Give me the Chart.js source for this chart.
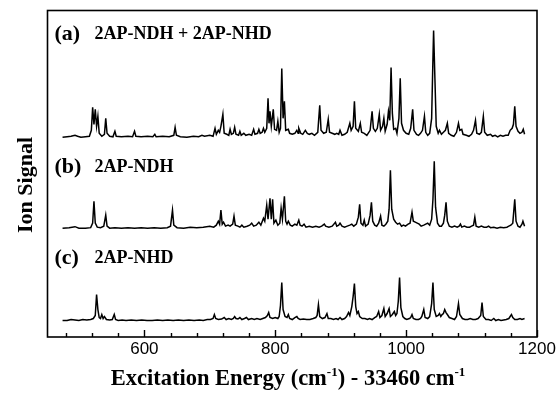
<!DOCTYPE html>
<html>
<head>
<meta charset="utf-8">
<script src="https://cdn.jsdelivr.net/npm/chart.js@4.4.1/dist/chart.umd.min.js"></script>
<style>
  html, body { margin: 0; padding: 0; background: #fff; }
  #wrap { width: 559px; height: 393px; }
</style>
</head>
<body>
<div id="wrap"><canvas id="chart" width="559" height="393"></canvas></div>
<script>
(function () {
  'use strict';

  // tick values on the energy axis (cm-1 above origin)
  var MAJOR_TICKS = [600, 800, 1000, 1200];
  var MINOR_TICKS = [480, 520, 560, 640, 680, 720, 760, 840, 880, 920, 960, 1040, 1080, 1120, 1160];

  var PANEL_LABELS = ['(a)', '(b)', '(c)'];
  var PANEL_NAMES = ['2AP-NDH + 2AP-NHD', '2AP-NDH', '2AP-NHD'];

  // [energy, signal] (signal above that trace's own baseline)
  var traceA = [
    [475,1],[482,1.5],[488,2],[494,3],[498,2],[503,1],[510,1.5],[516,2],
    [519,8],[521,31],[523,14],[525,29],[527,12],[529,22],[531,5],[535,2],
    [539,4],[541,20],[543,5],[547,2],[552,1.5],[555,7],[557,2],[565,1.5],[575,2],[582,1.5],[585,7],[587,2],
    [595,1.5],[605,2],[613,1.5],[616,4],[618,1.5],[628,2],[638,1.5],[645,3],[647,11],[649,3],[655,1.5],
    [665,1],[675,2],[683,1.5],[688,3],[692,2],[700,3],[705,2],[708,10],[710,4],[713,8],[715,6],[717,12],
    [720,24],[722,5],[726,4],[729,3],[731,9],[733,4],[736,5],[738,11],[740,4],[744,3],[746,7],[748,3],
    [752,5],[755,3],[760,4],[764,3],[767,9],[769,4],[773,5],[775,9],[777,5],[780,6],[782,10],[784,6],
    [787,10],[789,40],[790.5,15],[792,27],[794,12],[797,29],[799,9],[802,8],[804,17],[806,6],[808,10],
    [810,70],[812,20],[814,37],[816,8],[820,9],[822,5],[826,4],[830,5],[833,8],[835,5],[836,10],[839,5],
    [842,4],[846,8],[849,5],[852,4],[856,5],[860,3],[865,6],[868,33],[870,8],[874,5],[878,6],[881,19],
    [883,6],[887,5],[891,4],[894,5],[897,4],[899,8],[902,3],[906,4],[910,6],[914,15],[916,8],[919,12],
    [921,37],[923,10],[927,7],[930,15],[932,6],[936,5],[940,3],[945,8],[948,27],[950,10],[953,7],[956,10],
    [959,24],[961,8],[964,12],[966,20],[968,7],[971,14],[973,27],[975,18],[977,71],[979,25],[981,9],
    [984,10],[986,5],[989,20],[991,60],[993,15],[996,8],[1000,5],[1004,4],[1007,10],[1010,29],[1012,8],
    [1016,4],[1019,3],[1022,5],[1025,8],[1028,22],[1030,6],[1033,3],[1036,5],[1039,20],[1041,80],
    [1042,108],[1044,60],[1046,12],[1049,5],[1051,8],[1054,4],[1057,6],[1060,8],[1063,15],[1065,5],
    [1069,3],[1073,2],[1077,6],[1080,15],[1082,8],[1085,9],[1087,4],[1092,3],[1096,2],[1100,4],[1103,8],
    [1106,18],[1108,5],[1112,4],[1115,6],[1118,22],[1120,6],[1124,3],[1129,4],[1132,2],[1136,3],
    [1140,1.5],[1144,3],[1148,2],[1152,3],[1156,3],[1159,8],[1162,10],[1164,14],[1166,32],[1168,12],
    [1171,7],[1174,5],[1177,6],[1179,9],[1181,4]
  ];

  var traceB = [
    [475,1],[485,1.5],[494,2.5],[500,1],[510,1],[518,1.5],[521,6],[523,28],[525,6],[528,2],[533,1.5],
    [538,3],[541,14],[543,3],[547,1],[555,1.5],[565,1],[575,1.5],[585,1],[595,1.5],[605,1],[615,1.5],
    [625,1],[635,1.5],[640,3],[643,19],[645,4],[650,1.5],[660,1],[670,2],[680,1.5],[690,2],[700,3],
    [706,2],[710,4],[713,8],[715,5],[717,19],[719,5],[721,7],[724,3],[728,4],[731,3],[735,5],[737,13],
    [739,4],[743,3],[746,2],[749,4],[752,2],[757,3],[761,4],[764,6],[767,3],[771,4],[775,7],[778,4],
    [782,11],[784,8],[787,24],[789,10],[792,31],[794,10],[796,30],[798,6],[801,9],[804,4],[807,6],
    [809,21],[811,10],[814,33],[816,8],[818,5],[820,8],[823,4],[826,3],[830,5],[833,4],[836,9],[838,4],
    [841,3],[844,5],[847,2],[852,3],[857,2],[862,3],[867,2],[871,3],[875,5],[877,3],[882,2],[887,3],
    [892,7],[894,3],[897,4],[899,6],[902,3],[906,2],[910,3],[914,4],[917,5],[920,3],[924,5],[927,12],
    [929,25],[931,6],[934,4],[936,9],[938,3],[942,5],[945,14],[947,27],[949,8],[952,4],[955,3],[958,6],
    [961,13],[963,4],[966,3],[969,5],[972,8],[974,20],[976,59],[978,20],[981,10],[984,7],[987,5],
    [990,6],[993,3],[996,4],[999,3],[1003,5],[1006,6],[1009,17],[1011,8],[1014,7],[1017,6],[1020,5],
    [1023,3],[1027,4],[1030,5],[1033,6],[1036,4],[1039,10],[1041,30],[1043,68],[1045,22],[1048,6],
    [1051,3],[1054,3],[1057,6],[1059,14],[1061,27],[1063,8],[1066,3],[1070,2],[1074,3],[1078,2],
    [1081,3],[1083,5],[1085,2],[1089,3],[1093,2],[1097,2],[1100,3],[1103,4],[1105,12],[1107,3],
    [1111,2],[1115,3],[1119,2],[1123,2],[1126,3],[1129,1.5],[1134,2],[1139,1],[1144,2],[1149,1.5],
    [1154,2],[1157,3],[1160,4],[1163,6],[1166,30],[1168,8],[1171,3],[1174,2],[1177,5],[1178.5,8],[1181,3]
  ];

  var traceC = [
    [475,1],[482,1],[488,2],[494,1.5],[500,1],[506,2],[512,1.5],[518,2],[522,3],[525,6],[527,27],
    [529,12],[531,4],[533,3],[535,7],[537,3],[539,5],[542,2],[547,1.5],[551,2],[554,7],[556,2],[560,1],
    [566,1.5],[572,1],[580,1.5],[588,1],[596,1.5],[604,1],[612,1],[620,1.5],[628,1],[636,1.5],[644,1],
    [652,1.5],[660,1],[668,1.5],[676,1],[684,1.5],[690,1],[696,2],[701,2],[705,3],[707,7],[709,3],
    [713,2],[718,2.5],[722,4],[725,2],[729,3],[733,2],[736,3],[738,5],[740,3],[743,2.5],[746,4],[749,2],
    [753,3],[756,4],[759,2],[764,3],[768,2],[772,3],[777,2],[781,3],[785,4],[788,6],[790,9],[792,4],
    [796,3],[800,4],[804,3],[806,5],[808,16],[810,39],[812,12],[815,5],[818,4],[820,7],[822,3],[826,2],
    [830,4],[833,5],[835,3],[838,2],[843,2.5],[848,2],[853,2],[858,3],[862,4],[864,6],[866,17],[868,5],
    [872,3],[876,4],[879,8],[881,3],[885,3],[889,2],[893,3],[896,2],[899,4],[902,2],[906,3],[909,5],
    [912,9],[914,6],[917,15],[919,25],[921,38],[923,15],[925,8],[927,10],[929,5],[933,3],[937,3],
    [941,2],[944,3],[948,2],[952,4],[955,5],[958,10],[960,4],[963,6],[966,13],[968,5],[971,8],[974,13],
    [976,5],[979,7],[982,10],[984,6],[986,8],[988,20],[990,44],[992,14],[995,5],[998,3],[1001,2],
    [1005,3],[1007,4],[1009,7],[1011,3],[1015,2],[1019,2],[1022,3],[1024,5],[1027,12],[1029,4],
    [1033,3],[1036,5],[1039,18],[1041,39],[1043,12],[1046,5],[1049,6],[1051,8],[1053,5],[1055,7],
    [1057,8],[1059,12],[1061,9],[1063,7],[1066,4],[1070,3],[1074,2],[1077,5],[1080,18],[1082,7],
    [1086,3],[1090,2],[1094,2],[1098,3],[1102,2],[1106,2],[1110,3],[1114,6],[1116,19],[1118,5],
    [1122,2],[1126,2],[1130,1],[1134,3],[1137,1],[1141,2],[1145,1],[1149,1.5],[1153,2],[1157,3],
    [1159,5],[1161,7],[1163,4],[1166,2],[1170,2],[1174,3],[1177,2],[1181,3]
  ];

  // vertical stacking: each trace sits on its own baseline
  var BASELINES = [199, 108, 15.5];
  var TRACES = [traceA, traceB, traceC];

  var SERIF = '"Liberation Serif", "Times New Roman", serif';
  var SANS = '"Liberation Sans", Arial, sans-serif';

  function toPoints(trace, base) {
    return trace.map(function (p) { return { x: p[0], y: p[1] + base }; });
  }

  var datasets = TRACES.map(function (t, i) {
    return {
      label: PANEL_NAMES[i],
      data: toPoints(t, BASELINES[i]),
      showLine: true,
      borderColor: '#000',
      borderWidth: 1.5,
      pointRadius: 0,
      tension: 0,
      fill: false
    };
  });

  // frame, inward ticks and the serif annotations
  var decorPlugin = {
    id: 'decor',
    afterDraw: function (chart) {
      var ctx = chart.ctx, a = chart.chartArea, xs = chart.scales.x;
      ctx.save();
      ctx.strokeStyle = '#000';
      ctx.lineWidth = 1.6;
      ctx.strokeRect(a.left, a.top, a.right - a.left, a.bottom - a.top);

      ctx.lineWidth = 1.4;
      ctx.beginPath();
      MAJOR_TICKS.forEach(function (v) {
        var px = Math.round(xs.getPixelForValue(v)) + 0.5;
        ctx.moveTo(px, a.bottom); ctx.lineTo(px, a.bottom - 7);
      });
      MINOR_TICKS.forEach(function (v) {
        var px = Math.round(xs.getPixelForValue(v)) + 0.5;
        ctx.moveTo(px, a.bottom); ctx.lineTo(px, a.bottom - 4);
      });
      ctx.stroke();

      ctx.fillStyle = '#000';
      ctx.textBaseline = 'alphabetic';
      ctx.textAlign = 'left';
      var labelY = [40, 173, 264];
      for (var i = 0; i < 3; i++) {
        ctx.font = 'bold 22px ' + SERIF;
        ctx.fillText(PANEL_LABELS[i], a.left + 7, labelY[i]);
        ctx.font = 'bold 18px ' + SERIF;
        ctx.fillText(PANEL_NAMES[i], a.left + 47, labelY[i] - 1);
      }

      // x title with superscripts
      var parts = [
        ['Excitation Energy (cm', false], ['-1', true], [') - 33460 cm', false], ['-1', true]
      ];
      var big = 'bold 22.5px ' + SERIF, small = 'bold 13px ' + SERIF;
      var total = 0;
      parts.forEach(function (p) { ctx.font = p[1] ? small : big; total += ctx.measureText(p[0]).width; });
      var x = 288 - total / 2, y = 385;
      parts.forEach(function (p) {
        ctx.font = p[1] ? small : big;
        ctx.fillText(p[0], x, p[1] ? y - 9 : y);
        x += ctx.measureText(p[0]).width;
      });

      // y title
      ctx.translate(26, 185);
      ctx.rotate(-Math.PI / 2);
      ctx.textAlign = 'center';
      ctx.textBaseline = 'middle';
      ctx.font = 'bold 22px ' + SERIF;
      ctx.fillText('Ion Signal', 0, 0);
      ctx.restore();
    }
  };

  new Chart(document.getElementById('chart').getContext('2d'), {
    type: 'scatter',
    data: { datasets: datasets },
    options: {
      responsive: false,
      animation: false,
      devicePixelRatio: 1,
      layout: { padding: { left: 47.5, right: 22, top: 10.5, bottom: 0 } },
      plugins: { legend: { display: false }, tooltip: { enabled: false } },
      scales: {
        x: {
          type: 'linear',
          min: 452,
          max: 1200,
          afterBuildTicks: function (scale) {
            scale.ticks = MAJOR_TICKS.map(function (v) { return { value: v }; });
          },
          afterFit: function (scale) { scale.height = 56; },
          grid: { display: false, drawTicks: false },
          border: { display: false },
          ticks: {
            color: '#000',
            padding: 2,
            font: { family: SANS, size: 17 },
            maxRotation: 0,
            callback: function (v) { return String(v); }
          }
        },
        y: {
          display: false,
          min: 0,
          max: 327
        }
      }
    },
    plugins: [decorPlugin]
  });
})();
</script>
</body>
</html>
